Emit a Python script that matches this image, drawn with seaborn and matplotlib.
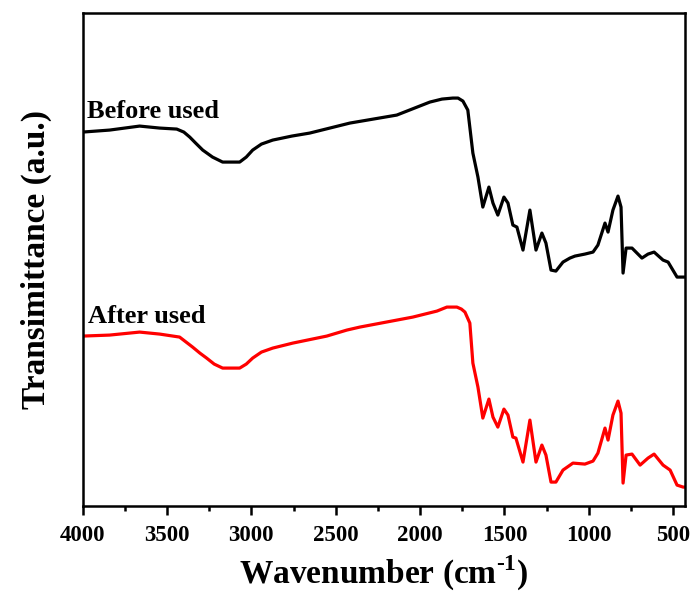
import numpy as np
import matplotlib
matplotlib.use("Agg")
import matplotlib.pyplot as plt
from matplotlib.ticker import MultipleLocator, AutoMinorLocator
import pandas as pd
import seaborn as sns

# values (wavenumber, transmittance a.u.)
wn_before = [4000, 3840, 3662, 3543, 3442, 3400, 3365, 3330, 3288, 3230, 3170, 3069,
             3030, 2992, 2940, 2873, 2760, 2654,
             2416, 2138, 1942, 1870, 1806, 1775, 1746, 1717, 1687, 1657, 1628, 1592,
             1568, 1539,
             1503, 1479, 1450, 1426, 1390, 1349, 1313, 1278, 1254, 1224, 1195, 1153,
             1112, 1082, 1023, 975, 946, 904, 886, 857, 827, 809, 797, 779, 744, 685,
             649, 613, 560, 530, 477, 441, 430]
t_before = [374, 376, 380, 378, 377, 374, 369, 363, 356, 349, 344, 344,
            349, 356, 362, 366, 370, 373,
            383, 391, 404, 407, 408, 408, 405, 396, 353, 329, 299, 319,
            303, 291,
            309, 303, 281, 279, 256, 296, 256, 273, 263, 236, 235, 244,
            248, 250, 252, 254, 261, 283, 274, 296, 310, 299, 233, 258, 258, 248,
            252, 254, 246, 244, 229, 229, 229]

wn_after = [4000, 3840, 3662, 3543, 3425, 3348, 3305, 3265, 3220, 3170, 3069, 3030,
            2992, 2940, 2873, 2754,
            2553, 2434, 2357, 2043, 1900, 1841, 1782, 1755, 1734, 1705, 1687, 1657,
            1628, 1592,
            1568, 1539, 1503, 1479, 1450, 1432, 1390, 1349, 1313, 1278, 1254, 1224,
            1195, 1153, 1094, 1023, 975, 946, 904, 886, 857, 827, 809, 797, 779, 744,
            696, 649, 613, 560, 518, 477, 441, 430]
t_after = [170, 171, 174, 172, 169, 159, 153, 148, 142, 138, 138, 142,
           148, 154, 158, 163,
           170, 176, 179, 189, 195, 199, 199, 197, 194, 183, 143, 119,
           88, 107,
           89, 79, 97, 91, 69, 68, 44, 86, 44, 61, 51, 24,
           24, 36, 43, 42, 45, 53, 78, 66, 91, 105, 93, 23, 51, 52,
           41, 48, 52, 41, 36, 21, 19, 19]

df_before = pd.DataFrame({"wn": wn_before, "T": t_before})
df_after = pd.DataFrame({"wn": wn_after, "T": t_after})

sns.set_style("ticks")
plt.rcParams["font.family"] = ["Liberation Serif", "DejaVu Serif"]
plt.rcParams["font.weight"] = "bold"
plt.rcParams["text.color"] = "black"
plt.rcParams["axes.edgecolor"] = "black"
plt.rcParams["axes.labelcolor"] = "black"
plt.rcParams["xtick.color"] = "black"
plt.rcParams["mathtext.fontset"] = "custom"
plt.rcParams["mathtext.rm"] = "Liberation Serif:bold"
plt.rcParams["mathtext.bf"] = "Liberation Serif:bold"

fig = plt.figure(figsize=(6.94, 5.94), dpi=100)
ax = fig.add_axes([0.119, 0.148, 0.868, 0.830])

sns.lineplot(data=df_before, x="wn", y="T", color="black", linewidth=2.3, ax=ax)
sns.lineplot(data=df_after, x="wn", y="T", color="#ff0000", linewidth=2.3, ax=ax)

ax.set_xlim(4000, 430)
ax.set_ylim(0, 493)
ax.xaxis.set_major_locator(MultipleLocator(500))
ax.xaxis.set_minor_locator(AutoMinorLocator(2))
ax.tick_params(axis="x", which="major", direction="out", length=6.5, width=1.8,
               labelsize=16.5, pad=7)
ax.tick_params(axis="x", which="minor", direction="out", length=3.5, width=1.8)
ax.tick_params(axis="y", left=False, labelleft=False)
for lab in ax.get_xticklabels():
    lab.set_fontweight("bold")

for s in ax.spines.values():
    s.set_visible(True)
    s.set_linewidth(1.8)
    s.set_color("black")

ax.set_xlabel(r"Wavenumber (cm$^{\mathbf{\text{-}1}}$)", fontsize=24, fontweight="bold", labelpad=6)
ax.set_ylabel("Transimittance (a.u.)", fontsize=24, fontweight="bold", labelpad=22)

ax.text(3976, 388, "Before used", fontsize=19, fontweight="bold", ha="left", va="baseline")
ax.text(3970, 183, "After used", fontsize=19, fontweight="bold", ha="left", va="baseline")

fig.savefig("out.png", dpi=100)
